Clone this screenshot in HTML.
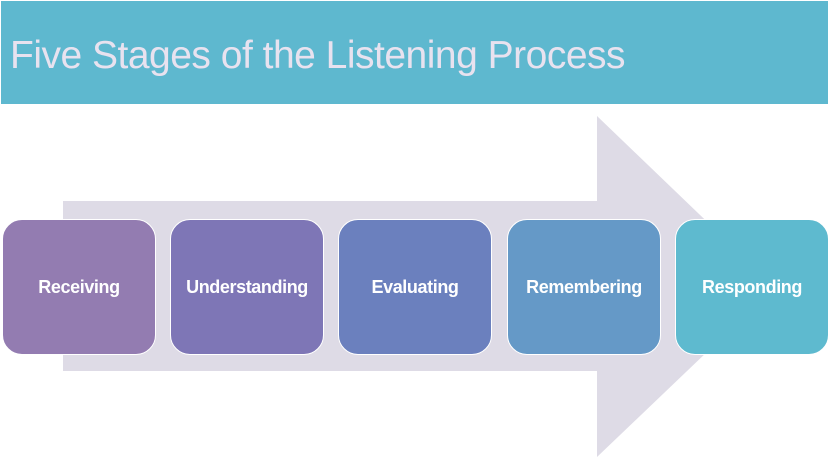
<!DOCTYPE html>
<html><head><meta charset="utf-8"><style>
html,body{margin:0;padding:0;background:#fff;width:830px;height:459px;overflow:hidden;position:relative;font-family:"Liberation Sans",sans-serif}
.hdr{position:absolute;left:1px;top:1px;width:827px;height:103px;background:#5eb8cf}
.title{position:absolute;left:10px;top:33px;font-size:39px;color:#e8e2ef;letter-spacing:-0.5px;white-space:nowrap;line-height:46px}
.box{position:absolute;top:219px;width:154px;height:136px;border:1px solid #fff;border-radius:20px;box-sizing:border-box;color:#fff;font-weight:bold;font-size:18px;display:flex;align-items:center;justify-content:center;letter-spacing:-0.4px}
</style></head><body>
<div class="hdr"></div>
<div class="title">Five Stages of the Listening Process</div>
<svg style="position:absolute;left:0;top:0" width="830" height="459">
<polygon points="63,201 597,201 597,116 775,287 597,457 597,371 63,371" fill="#dedbe6"/>
</svg>
<div class="box" style="left:2px;background:#937cb1">Receiving</div>
<div class="box" style="left:170px;background:#7e76b6">Understanding</div>
<div class="box" style="left:338px;background:#6b80be">Evaluating</div>
<div class="box" style="left:507px;background:#6599c7">Remembering</div>
<div class="box" style="left:675px;background:#5ebacf">Responding</div>
</body></html>
